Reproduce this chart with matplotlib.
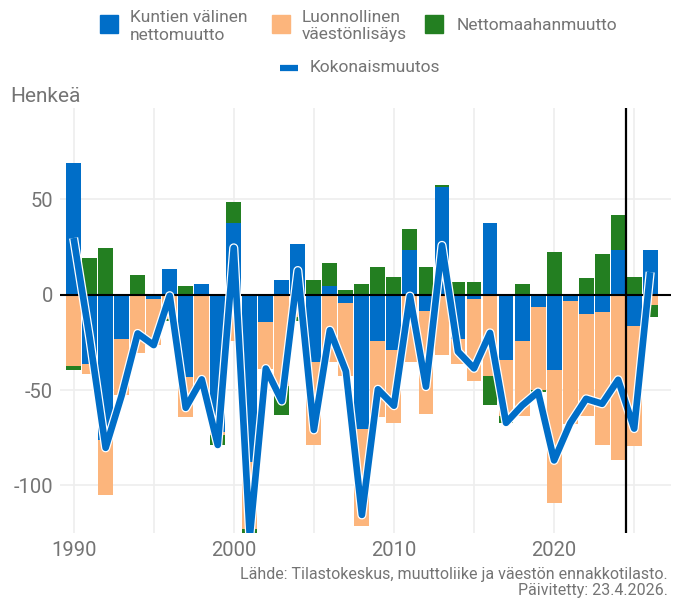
import matplotlib
matplotlib.use('Agg')
import matplotlib.pyplot as plt
import numpy as np
from matplotlib import rcParams
from matplotlib.patches import Rectangle
from matplotlib.lines import Line2D
import matplotlib.patheffects as pe

rcParams['font.family'] = ['Roboto', 'DejaVu Sans']
rcParams['axes.unicode_minus'] = False

# data (henkeä)
years = np.arange(1990, 2027)
kuntien_valinen = [69.3, -36.5, -76.0, -23.3, 0.0, -2.2, 13.5, -43.4, 5.6, -72.0,
                   37.7, -88.0, -14.2, 7.5, 26.7, -35.3, 4.6, -4.4, -70.2, -24.4,
                   -29.1, 23.5, -8.6, 56.7, -23.3, -2.3, 37.7, -34.4, -24.3, -6.3,
                   -39.6, -3.3, -10.2, -9.1, 23.5, -16.3, 23.5]
luonnollinen = [-37.4, -5.3, -28.9, -29.5, -30.7, -24.2, -12.5, -20.5, -50.0, -1.5,
                -24.2, -35.0, -25.0, -48.0, -11.5, -43.3, -35.3, -38.2, -50.9, -39.8,
                -38.4, -35.3, -54.2, -31.8, -13.2, -43.0, -42.5, -29.3, -39.4, -43.5,
                -69.8, -64.7, -53.2, -69.5, -86.5, -63.2, -5.3]
nettomaahanmuutto = [-2.1, 19.3, 24.6, 0.0, 10.4, 0.0, -1.5, 4.6, 0.0, -5.3,
                     11.1, -4.0, 0.5, -15.3, -2.5, 7.7, 12.1, 2.5, 5.6, 14.6,
                     9.3, 11.1, 14.6, 1.0, 6.7, 6.7, -15.2, -3.5, 5.6, -1.2,
                     22.5, 0.5, 8.8, 21.4, 18.4, 9.3, -6.3]
series_labels = ['Kuntien välinen\nnettomuutto', 'Luonnollinen\nväestönlisäys',
                 'Nettomaahanmuutto']
line_label = 'Kokonaismuutos'
forecast_start = 2024.5

colors = ['#006ec8', '#fcb57c', '#237f21']
grey = '#747474'

fig = plt.figure(figsize=(6.73, 5.99), dpi=100)
ax = fig.add_axes([60 / 673, 66 / 599, 611 / 673, 425 / 599])

pos_base = np.zeros(len(years))
neg_base = np.zeros(len(years))
for vals, col in zip([kuntien_valinen, luonnollinen, nettomaahanmuutto], colors):
    vals = np.array(vals)
    bottom = np.where(vals >= 0, pos_base, neg_base)
    ax.bar(years, vals, bottom=bottom, width=0.93, color=col, linewidth=0,
           zorder=2)
    pos_base += np.clip(vals, 0, None)
    neg_base += np.clip(vals, None, 0)

total = (np.array(kuntien_valinen) + np.array(luonnollinen)
         + np.array(nettomaahanmuutto))

ax.axhline(0, color='black', lw=1.5, zorder=3)
ax.plot(years, total, color=colors[0], lw=4.8, solid_joinstyle='round',
        solid_capstyle='butt', zorder=4,
        path_effects=[pe.Stroke(linewidth=6.6, foreground='white'),
                      pe.Normal()])
ax.axvline(forecast_start, color='black', lw=1.6, zorder=5)

ax.set_xlim(1989.15, 2027.3)
ax.set_ylim(-125, 98)
ax.set_xticks(np.arange(1990, 2030, 5), minor=True)
ax.set_xticks([1990, 2000, 2010, 2020])
ax.set_yticks([-100, -50, 0, 50])
ax.set_yticklabels(['-100', '-50', '0', '50'])
ax.grid(True, which='both', axis='x', color='#eeeeee', lw=1.2, zorder=0)
ax.grid(True, axis='y', color='#eeeeee', lw=1.2, zorder=0)
ax.set_axisbelow(True)
ax.tick_params(which='both', length=0, labelsize=14.5, colors=grey)
ax.tick_params(axis='x', pad=6)
ax.tick_params(axis='y', pad=5)
for s in ax.spines.values():
    s.set_visible(False)

fig.text(10 / 673, 1 - 96 / 599, 'Henkeä', fontsize=15, color=grey,
         va='center', ha='left')

# legend, plotly style
W, H = 673, 599
sq = 18
for x0, x_txt, col, lab in zip([100, 272, 425], [130, 302, 457], colors,
                               series_labels):
    fig.patches.append(Rectangle((x0 / W, 1 - 33 / H), sq / W, sq / H,
                                 transform=fig.transFigure, color=col))
    fig.text(x_txt / W, 1 - 26 / H, lab, fontsize=12.5, color=grey,
             va='center', ha='left', linespacing=1.25)
fig.lines.append(Line2D([280 / W, 298 / W], [1 - 68 / H, 1 - 68 / H],
                        transform=fig.transFigure, color=colors[0], lw=4.5,
                        solid_capstyle='butt'))
fig.text(310 / W, 1 - 68 / H, line_label, fontsize=12.5, color=grey,
         va='center', ha='left')

fig.text(668 / W, 1 - 575 / H,
         'Lähde: Tilastokeskus, muuttoliike ja väestön ennakkotilasto.',
         fontsize=11.5, color=grey, ha='right', va='center')
fig.text(668 / W, 1 - 591 / H, 'Päivitetty: 23.4.2026.', fontsize=11.5,
         color=grey, ha='right', va='center')

fig.savefig('out.png', dpi=100)
